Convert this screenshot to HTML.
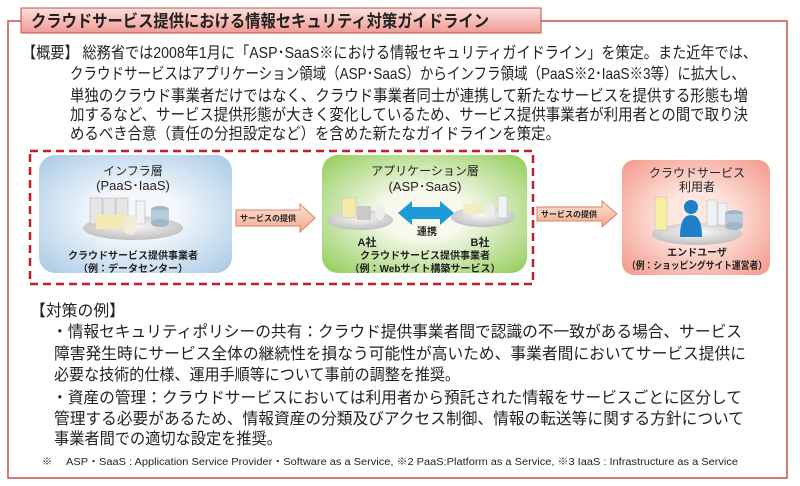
<!DOCTYPE html>
<html><head><meta charset="utf-8"><style>html,body{margin:0;padding:0;background:#fff}svg{display:block}text{font-family:"Liberation Sans","Noto Sans CJK JP",sans-serif;fill:#222}</style></head><body>
<svg width="800" height="486" viewBox="0 0 800 486" xmlns="http://www.w3.org/2000/svg">
<defs>
<linearGradient id="tg" x1="0" y1="0" x2="0" y2="1"><stop offset="0" stop-color="#fde0dd"/><stop offset="1" stop-color="#f19a94"/></linearGradient>
<radialGradient id="bg1" cx="0.5" cy="0.5" r="0.7"><stop offset="0.3" stop-color="#f4f8fc"/><stop offset="1" stop-color="#a9c9e6"/></radialGradient>
<radialGradient id="bg2" cx="0.5" cy="0.5" r="0.7"><stop offset="0.3" stop-color="#f6f9ec"/><stop offset="1" stop-color="#92cc58"/></radialGradient>
<radialGradient id="bg3" cx="0.5" cy="0.5" r="0.7"><stop offset="0.3" stop-color="#fde7e0"/><stop offset="1" stop-color="#f3978a"/></radialGradient>
<linearGradient id="ag" x1="0" y1="0" x2="0" y2="1"><stop offset="0" stop-color="#fde3d6"/><stop offset="1" stop-color="#f2a88a"/></linearGradient>
<radialGradient id="disc" cx="0.5" cy="0.4" r="0.6"><stop offset="0" stop-color="#fafafa"/><stop offset="1" stop-color="#bfbfbf"/></radialGradient>
</defs>
<path d="M30 21 H8 V478 H787 V21 H540" fill="none" stroke="#c0504d" stroke-width="1.5"/>
<rect x="21" y="8" width="520" height="25" fill="url(#tg)" stroke="#c0504d" stroke-width="1"/>
<text x="31" y="27" font-size="17" font-weight="bold" textLength="458" lengthAdjust="spacingAndGlyphs">クラウドサービス提供における情報セキュリティ対策ガイドライン</text>

<g font-size="16">
<text x="22" y="58" textLength="735" lengthAdjust="spacingAndGlyphs">【概要】 総務省では2008年1月に「ASP･SaaS※における情報セキュリティガイドライン」を策定。また近年では、</text>
<text x="70" y="79" textLength="675" lengthAdjust="spacingAndGlyphs">クラウドサービスはアプリケーション領域（ASP･SaaS）からインフラ領域（PaaS※2･IaaS※3等）に拡大し、</text>
<text x="70" y="101" textLength="678" lengthAdjust="spacingAndGlyphs">単独のクラウド事業者だけではなく、クラウド事業者同士が連携して新たなサービスを提供する形態も増</text>
<text x="70" y="120" textLength="678" lengthAdjust="spacingAndGlyphs">加するなど、サービス提供形態が大きく変化しているため、サービス提供事業者が利用者との間で取り決</text>
<text x="70" y="139" textLength="490" lengthAdjust="spacingAndGlyphs">めるべき合意（責任の分担設定など）を含めた新たなガイドラインを策定。</text>
</g>

<rect x="30" y="151" width="503" height="133" fill="none" stroke="#c0202a" stroke-width="2.5" stroke-dasharray="8,5"/>
<rect x="39" y="155" width="193" height="118" rx="16" fill="url(#bg1)"/>
<rect x="322" y="155" width="205" height="118" rx="16" fill="url(#bg2)"/>
<rect x="622" y="160" width="148" height="115" rx="12" fill="url(#bg3)"/>

<g font-size="12" text-anchor="middle">
<text x="133" y="175">インフラ層</text>
<text x="133" y="190" font-size="13">(PaaS･IaaS)</text>
<text x="133" y="259" font-size="10" font-weight="bold">クラウドサービス提供事業者</text>
<text x="133" y="272" font-size="10" font-weight="bold">（例：データセンター）</text>
<text x="425" y="175">アプリケーション層</text>
<text x="425" y="191" font-size="13">(ASP･SaaS)</text>
<text x="367" y="246" font-size="11" font-weight="bold">A社</text>
<text x="480" y="246" font-size="11" font-weight="bold">B社</text>
<text x="427" y="235" font-size="10" font-weight="bold">連携</text>
<text x="425" y="259" font-size="10" font-weight="bold">クラウドサービス提供事業者</text>
<text x="425" y="272" font-size="10" font-weight="bold">（例：Webサイト構築サービス）</text>
<text x="697" y="177">クラウドサービス</text>
<text x="697" y="191">利用者</text>
<text x="697" y="256" font-size="10" font-weight="bold">エンドユーザ</text>
<text x="697" y="269" font-size="10" font-weight="bold" textLength="140" lengthAdjust="spacingAndGlyphs">（例：ショッピングサイト運営者）</text>
</g>

<ellipse cx="133" cy="228" rx="50" ry="12" fill="url(#disc)"/>
<rect x="90" y="198" width="12" height="26" fill="#e6e6e6" stroke="#aaa" stroke-width="0.5"/>
<rect x="103" y="198" width="12" height="26" fill="#e6e6e6" stroke="#aaa" stroke-width="0.5"/>
<rect x="116" y="198" width="12" height="26" fill="#e6e6e6" stroke="#aaa" stroke-width="0.5"/>
<rect x="136" y="201" width="9" height="23" fill="#f2f2f2" stroke="#aaa" stroke-width="0.5"/>
<rect x="96" y="215" width="40" height="14" fill="#f6eab4"/>
<ellipse cx="130" cy="225" rx="7" ry="10" fill="#f2edd8"/>
<ellipse cx="160" cy="210" rx="9" ry="4" fill="#9fb6c8"/><rect x="151" y="210" width="18" height="13" fill="#b9cbd8"/><ellipse cx="160" cy="223" rx="9" ry="4" fill="#9fb6c8"/>

<ellipse cx="360" cy="220" rx="33" ry="10" fill="url(#disc)"/>
<rect x="342" y="198" width="14" height="20" fill="#f3e9a8" stroke="#bbb" stroke-width="0.5"/>
<rect x="357" y="206" width="14" height="14" fill="#c9c9c9"/>
<ellipse cx="380" cy="212" rx="5" ry="8" fill="#eee"/>
<ellipse cx="483" cy="217" rx="32" ry="10" fill="url(#disc)"/>
<rect x="463" y="204" width="22" height="10" fill="#f2edc2"/>
<ellipse cx="490" cy="210" rx="5" ry="7" fill="#eee"/>
<rect x="498" y="196" width="9" height="22" fill="#eef2f5" stroke="#bbb" stroke-width="0.5"/>
<path d="M398 213 L412 201 V207 H440 V201 L454 213 L440 225 V219 H412 V225 Z" fill="#1e9ad6"/>

<ellipse cx="697" cy="234" rx="45" ry="11" fill="url(#disc)"/>
<rect x="655" y="197" width="12" height="33" fill="#f6efa0" stroke="#bbb" stroke-width="0.5"/>
<rect x="707" y="200" width="10" height="26" fill="#eef2f5" stroke="#bbb" stroke-width="0.5"/>
<rect x="718" y="203" width="9" height="22" fill="#eef2f5" stroke="#bbb" stroke-width="0.5"/>
<circle cx="691" cy="207" r="7" fill="#1f7fc9"/>
<path d="M680 237 Q680 215 691 215 Q702 215 702 237 Z" fill="#1f7fc9"/>
<ellipse cx="734" cy="214" rx="9" ry="4" fill="#9fb6c8"/><rect x="725" y="214" width="18" height="12" fill="#b9cbd8"/><ellipse cx="734" cy="226" rx="9" ry="4" fill="#9fb6c8"/>

<path d="M236 210 H300 V204 L315 218 L300 232 V226 H236 Z" fill="url(#ag)" stroke="#d9826a" stroke-width="1"/>
<text x="268" y="221" font-size="8" font-weight="bold" text-anchor="middle">サービスの提供</text>
<path d="M537 207 H602 V201 L617 214 L602 227 V221 H537 Z" fill="url(#ag)" stroke="#d9826a" stroke-width="1"/>
<text x="569" y="217" font-size="8" font-weight="bold" text-anchor="middle">サービスの提供</text>

<g font-size="16">
<text x="30" y="316" textLength="95" lengthAdjust="spacingAndGlyphs">【対策の例】</text>
<text x="52" y="337" textLength="690" lengthAdjust="spacingAndGlyphs">・情報セキュリティポリシーの共有：クラウド提供事業者間で認識の不一致がある場合、サービス</text>
<text x="54" y="359" textLength="692" lengthAdjust="spacingAndGlyphs">障害発生時にサービス全体の継続性を損なう可能性が高いため、事業者間においてサービス提供に</text>
<text x="54" y="380" textLength="406" lengthAdjust="spacingAndGlyphs">必要な技術的仕様、運用手順等について事前の調整を推奨。</text>
<text x="52" y="403" textLength="690" lengthAdjust="spacingAndGlyphs">・資産の管理：クラウドサービスにおいては利用者から預託された情報をサービスごとに区分して</text>
<text x="54" y="424" textLength="690" lengthAdjust="spacingAndGlyphs">管理する必要があるため、情報資産の分類及びアクセス制御、情報の転送等に関する方針について</text>
<text x="54" y="444" textLength="228" lengthAdjust="spacingAndGlyphs">事業者間での適切な設定を推奨。</text>
</g>
<text x="42" y="465" font-size="10">※</text>
<text x="66" y="465" font-size="10" textLength="672" lengthAdjust="spacingAndGlyphs">ASP・SaaS : Application Service Provider・Software as a Service, ※2 PaaS:Platform as a Service, ※3 IaaS : Infrastructure as a Service</text>
</svg>
</body></html>
